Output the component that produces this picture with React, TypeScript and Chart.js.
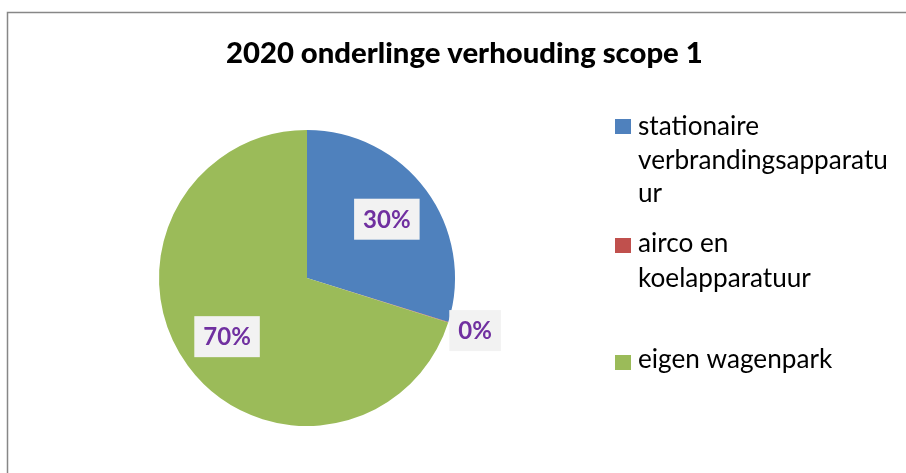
import React, { useEffect, useRef } from "react";
import { Chart, registerables } from "chart.js";

Chart.register(...registerables);

const title = "2020 onderlinge verhouding scope 1";
const categories = ["stationaire verbrandingsapparatuur", "airco en koelapparatuur", "eigen wagenpark"];
const legendLines = [["stationaire", "verbrandingsapparatu", "ur"], ["airco en", "koelapparatuur"], ["eigen wagenpark"]];
const values = [29.8, 0.05, 70.15];
const colors = ["#4F81BD", "#C0504D", "#9BBB59"];

const FONT = "Lato, 'Open Sans', sans-serif";

function fitFont(ctx: CanvasRenderingContext2D, text: string, weight: string, target: number) {
  let size = 20;
  ctx.font = `${weight} ${size}px ${FONT}`;
  const w = ctx.measureText(text).width;
  size = (size * target) / w;
  return size;
}

const overlay = {
  id: "overlay",
  afterDraw(chart: any) {
    const ctx: CanvasRenderingContext2D = chart.ctx;
    ctx.save();
    // frame
    ctx.strokeStyle = "#878787";
    ctx.lineWidth = 1.5;
    ctx.beginPath();
    ctx.moveTo(7.5, 473);
    ctx.lineTo(7.5, 12.5);
    ctx.lineTo(906, 12.5);
    ctx.stroke();

    // title
    const ts = fitFont(ctx, title, "900", 477);
    ctx.font = `900 ${ts}px ${FONT}`;
    ctx.fillStyle = "#000";
    ctx.textAlign = "left";
    ctx.textBaseline = "alphabetic";
    ctx.fillText(title, 226, 63);

    // legend
    const ls = fitFont(ctx, "verbrandingsapparatu", "normal", 250);
    ctx.font = `normal ${ls}px ${FONT}`;
    const squares = [119, 238, 355];
    const baselines = [[135, 168.5, 202], [252, 287], [368]];
    legendLines.forEach((lines, i) => {
      ctx.fillStyle = colors[i];
      ctx.fillRect(615, squares[i], 16, 15);
      ctx.fillStyle = "#000";
      lines.forEach((ln, j) => ctx.fillText(ln, 638, baselines[i][j]));
    });

    // data labels
    const meta = chart.getDatasetMeta(0);
    const total = values.reduce((a, b) => a + b, 0);
    ctx.textAlign = "center";
    ctx.textBaseline = "middle";
    meta.data.forEach((arc: any, i: number) => {
      const p = arc.getProps(["x", "y", "startAngle", "endAngle", "outerRadius"], true);
      const mid = (p.startAngle + p.endAngle) / 2;
      const pct = (values[i] / total) * 100;
      const dist = pct < 2 ? p.outerRadius * 1.19 : p.outerRadius * 0.67;
      const cx = p.x + Math.cos(mid) * dist;
      const cy = p.y + Math.sin(mid) * dist;
      const label = Math.round(pct) + "%";
      ctx.font = `bold 24px ${FONT}`;
      const tw = ctx.measureText(label).width;
      const bw = tw + 18;
      const bh = 41;
      ctx.fillStyle = "#F2F2F2";
      ctx.fillRect(cx - bw / 2, cy - bh / 2, bw, bh);
      ctx.fillStyle = "#7030A0";
      ctx.fillText(label, cx, cy + 1);
    });
    ctx.restore();
  },
};

export default function App() {
  const ref = useRef<HTMLCanvasElement>(null);
  useEffect(() => {
    document.body.style.margin = "0";
    const chart = new Chart(ref.current!, {
      type: "pie",
      data: {
        labels: categories,
        datasets: [{ data: values, backgroundColor: colors, borderWidth: 0 }],
      },
      options: {
        animation: false,
        responsive: false,
        layout: { padding: { left: 159, right: 451, top: 130, bottom: 47 } },
        plugins: { legend: { display: false }, tooltip: { enabled: false }, title: { display: false } },
      },
      plugins: [overlay],
    });
    return () => chart.destroy();
  }, []);
  return <canvas ref={ref} width={906} height={473} style={{ display: "block" }} />;
}
